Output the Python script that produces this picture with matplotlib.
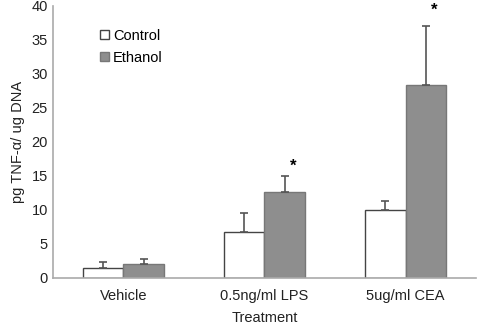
import numpy as np
import matplotlib
matplotlib.use("Agg")
import matplotlib.pyplot as plt

plt.rcParams['font.family'] = ['Liberation Sans', 'DejaVu Sans']

categories = ["Vehicle", "0.5ng/ml LPS", "5ug/ml CEA"]
control = [1.5, 6.7, 10.0]
control_err = [0.8, 2.8, 1.3]
ethanol = [2.05, 12.6, 28.3]
ethanol_err = [0.75, 2.4, 8.8]
star_y = [None, 16.4, 39.4]  # significance markers over ethanol bars

fig = plt.figure(figsize=(4.8, 3.3), dpi=100)
ax = fig.add_axes([0.110, 0.158, 0.882, 0.824])

x = np.arange(len(categories))
w = 0.287
err_kw = dict(ecolor='#555555', elinewidth=1.2, capsize=3, capthick=1.2)
ax.bar(x - w / 2, control, w, color='white', edgecolor='#444444', linewidth=1,
       yerr=[np.zeros(3), control_err], error_kw=err_kw, label='Control')
ax.bar(x + w / 2, ethanol, w, color='#8e8e8e', edgecolor='#777777', linewidth=1,
       yerr=[np.zeros(3), ethanol_err], error_kw=err_kw, label='Ethanol')

for xi, sy in zip(x, star_y):
    if sy is not None:
        ax.text(xi + w / 2 + 0.06, sy, '*', ha='center', va='center',
                fontsize=12, fontweight='bold', clip_on=False)

ax.set_xlim(-0.5, 2.5)
ax.set_ylim(0, 40)
ax.set_yticks(np.arange(0, 41, 5))
ax.set_xticks(x)
ax.set_xticklabels(categories)
ax.tick_params(length=0, labelsize=10.5, colors='#222222')
ax.tick_params(axis='x', pad=8)
ax.set_xlabel('Treatment', fontsize=10.5, color='#222222', labelpad=6)
ax.set_ylabel('pg TNF-α/ ug DNA', fontsize=10.5, color='#222222', labelpad=5)
for side in ['top', 'right']:
    ax.spines[side].set_visible(False)
for side in ['left', 'bottom']:
    ax.spines[side].set_color('#aaaaaa')
    ax.spines[side].set_linewidth(1.2)

ax.legend(loc='upper left', bbox_to_anchor=(0.08, 0.965), frameon=False,
          fontsize=10.5, handlelength=0.6, handleheight=0.6, handletextpad=0.3,
          labelspacing=0.55)

fig.savefig('out.png', dpi=100)
